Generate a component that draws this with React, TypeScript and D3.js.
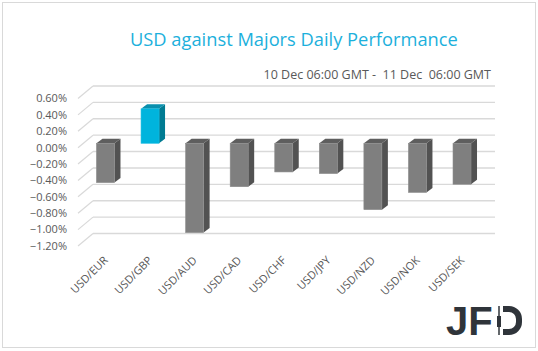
import React, { useRef, useEffect } from 'react';
import * as d3 from 'd3';

const pairs = ['USD/EUR', 'USD/GBP', 'USD/AUD', 'USD/CAD', 'USD/CHF', 'USD/JPY', 'USD/NZD', 'USD/NOK', 'USD/SEK'];
const changes = [-0.48, 0.42, -1.09, -0.53, -0.35, -0.37, -0.81, -0.6, -0.5];
const yTicks = [0.6, 0.4, 0.2, 0, -0.2, -0.4, -0.6, -0.8, -1.0, -1.2];
const title = 'USD against Majors Daily Performance';
const subtitle = '10 Dec 06:00 GMT -  11 Dec  06:00 GMT';

const W = 538;
const H = 351;

const App: React.FC = () => {
  const svgRef = useRef<SVGSVGElement>(null);

  useEffect(() => {
    if (!svgRef.current) return;
    const svg = d3.select(svgRef.current);
    svg.selectAll('*').remove();

    // frame
    svg.append('rect')
      .attr('x', 2.5).attr('y', 2.5)
      .attr('width', 533).attr('height', 345)
      .attr('fill', '#fff')
      .attr('stroke', '#d9d9d9');

    // front (label) scale, back wall is shifted up-right
    const y = d3.scaleLinear().domain([-1.2, 0.6]).range([246, 98.5]);
    const depth = { dx: 15, dy: -12.5 };
    const wallLeft = 78;
    const wallRight = 495;

    const x = d3.scalePoint<string>()
      .domain(pairs)
      .range([83.2, 484.3])
      .padding(0.5);

    const barW = 18;
    const side = { dx: 6, dy: -4.5 };
    const barY = (v: number) => y(v) - 4.4;

    // grid
    const grid = svg.append('g');
    yTicks.forEach(t => {
      grid.append('line')
        .attr('x1', wallLeft).attr('y1', y(t))
        .attr('x2', wallLeft + depth.dx).attr('y2', y(t) + depth.dy)
        .attr('stroke', '#d9d9d9').attr('stroke-width', 1.2);
      grid.append('line')
        .attr('x1', wallLeft + depth.dx).attr('y1', y(t) + depth.dy)
        .attr('x2', wallRight).attr('y2', y(t) + depth.dy)
        .attr('stroke', '#d9d9d9').attr('stroke-width', 1.4);
    });

    // y labels
    svg.append('g')
      .selectAll('text')
      .data(yTicks)
      .join('text')
      .attr('x', 67)
      .attr('y', d => y(d))
      .attr('dy', '0.35em')
      .attr('text-anchor', 'end')
      .attr('fill', '#595959')
      .style('font-family', '"Open Sans", sans-serif')
      .style('font-size', '11px')
      .text(d => d3.format('.2f')(d) + '%');

    // bars
    const bars = svg.append('g');
    pairs.forEach((p, i) => {
      const v = changes[i];
      const x0 = (x(p) as number) - barW / 2;
      const x1 = x0 + barW;
      const top = barY(Math.max(v, 0));
      const bottom = barY(Math.min(v, 0));
      const up = v > 0;
      const front = up ? '#00b4dd' : '#7f7f7f';
      const sideC = up ? '#007b92' : '#525252';
      const topC = up ? '#0a90ae' : '#5e5e5e';

      bars.append('path')
        .attr('d', `M${x1},${top}L${x1 + side.dx},${top + side.dy}L${x1 + side.dx},${bottom + side.dy}L${x1},${bottom}Z`)
        .attr('fill', sideC);
      bars.append('path')
        .attr('d', `M${x0},${top}L${x0 + side.dx},${top + side.dy}L${x1 + side.dx},${top + side.dy}L${x1},${top}Z`)
        .attr('fill', topC);
      bars.append('rect')
        .attr('x', x0).attr('y', top)
        .attr('width', barW).attr('height', bottom - top)
        .attr('fill', front)
        .attr('stroke', up ? '#19bde3' : '#8c8c8c')
        .attr('stroke-width', 0.6);
    });

    // x labels
    svg.append('g')
      .selectAll('text')
      .data(pairs)
      .join('text')
      .attr('transform', d => `translate(${(x(d) as number) + 3},${261}) rotate(-45)`)
      .attr('text-anchor', 'end')
      .attr('fill', '#595959')
      .style('font-family', '"Open Sans", sans-serif')
      .style('font-size', '11px')
      .text(d => d);

    // titles
    svg.append('text')
      .attr('x', 130).attr('y', 46)
      .attr('fill', '#1cb0dc')
      .style('font-family', '"Open Sans", sans-serif')
      .style('font-size', '18.3px')
      .text(title);

    svg.append('text')
      .attr('x', 491).attr('y', 79)
      .attr('text-anchor', 'end')
      .attr('fill', '#595959')
      .style('font-family', '"Open Sans", sans-serif')
      .style('font-size', '12.5px')
      .style('white-space', 'pre')
      .attr('xml:space', 'preserve')
      .text(subtitle);

    // JFD logo
    const logo = svg.append('g').attr('fill', '#2f343a');
    logo.append('text')
      .attr('x', 446).attr('y', 335)
      .style('font-family', '"Liberation Sans", Arial, sans-serif')
      .style('font-weight', 'bold')
      .style('font-size', '40px')
      .text('JF');
    logo.append('line')
      .attr('x1', 499).attr('x2', 499)
      .attr('y1', 306).attr('y2', 335)
      .attr('stroke', '#2f343a').attr('stroke-width', 1.5);
    logo.append('rect')
      .attr('x', 497).attr('y', 316)
      .attr('width', 4).attr('height', 11);
    logo.append('path')
      .attr('d', 'M503,309H509A10,10 0 0 1 519,319V322A10,10 0 0 1 509,332H503')
      .attr('fill', 'none')
      .attr('stroke', '#2f343a')
      .attr('stroke-width', 6);
  }, []);

  return (
    <div style={{ position: 'absolute', left: 0, top: 0 }}>
      <svg ref={svgRef} width={W} height={H}></svg>
    </div>
  );
};

export default App;
